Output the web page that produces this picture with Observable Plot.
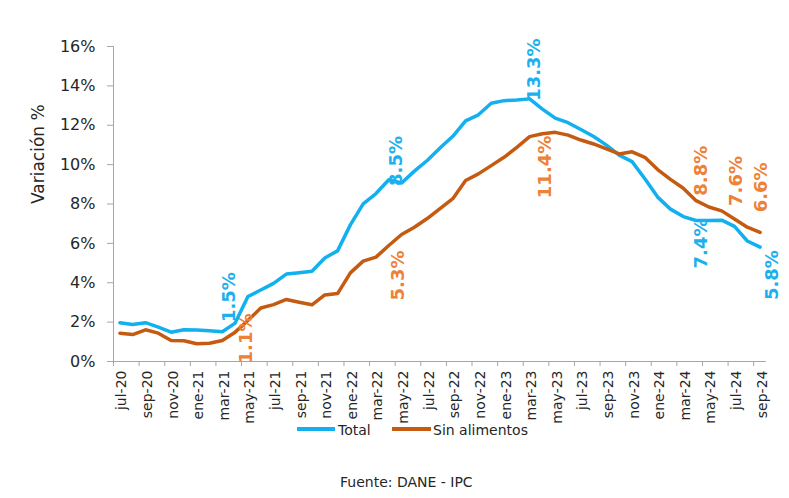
<!DOCTYPE html>
<html><head><meta charset="utf-8">
<script src="https://cdn.jsdelivr.net/npm/d3@7"></script>
<script src="https://cdn.jsdelivr.net/npm/@observablehq/plot@0.6"></script>
<style>
body{margin:0;background:#fff;font-family:"DejaVu Sans",Verdana,sans-serif;}
#wrap{position:relative;width:789px;height:498px;overflow:hidden;}
#wrap svg{position:absolute;left:0;top:0;}
.lg{position:absolute;font-size:14px;line-height:14px;color:#262626;white-space:nowrap;}
.sw{position:absolute;height:4px;}
</style></head>
<body><div id="wrap"></div>
<script>
const months = ["jul-20","ago-20","sep-20","oct-20","nov-20","dic-20","ene-21","feb-21","mar-21","abr-21","may-21","jun-21","jul-21","ago-21","sep-21","oct-21","nov-21","dic-21","ene-22","feb-22","mar-22","abr-22","may-22","jun-22","jul-22","ago-22","sep-22","oct-22","nov-22","dic-22","ene-23","feb-23","mar-23","abr-23","may-23","jun-23","jul-23","ago-23","sep-23","oct-23","nov-23","dic-23","ene-24","feb-24","mar-24","abr-24","may-24","jun-24","jul-24","ago-24","sep-24"];
const total = [1.97,1.88,1.97,1.75,1.49,1.61,1.60,1.56,1.51,1.95,3.30,3.63,3.97,4.44,4.51,4.58,5.26,5.62,6.94,8.01,8.53,9.23,9.07,9.67,10.21,10.84,11.44,12.22,12.53,13.12,13.25,13.28,13.34,12.82,12.36,12.13,11.78,11.43,10.99,10.48,10.15,9.28,8.35,7.74,7.36,7.16,7.16,7.18,6.86,6.12,5.81];
const sinAlimentos = [1.44,1.37,1.61,1.44,1.07,1.05,0.90,0.93,1.07,1.49,2.08,2.72,2.89,3.15,3.01,2.88,3.38,3.45,4.50,5.10,5.30,5.89,6.45,6.82,7.26,7.77,8.27,9.19,9.53,9.95,10.37,10.88,11.42,11.57,11.64,11.50,11.25,11.05,10.80,10.54,10.65,10.37,9.75,9.25,8.80,8.17,7.85,7.65,7.24,6.82,6.56];
const yTicks = [0,2,4,6,8,10,12,14,16];
const labelTexts = ["1.5%","1.1%","8.5%","5.3%","13.3%","11.4%","8.8%","7.4%","7.6%","6.6%","5.8%"];
const labelSeries = ["Total","Sin alimentos","Total","Sin alimentos","Total","Sin alimentos","Sin alimentos","Total","Sin alimentos","Sin alimentos","Total"];
const labelMonths = ["abr-21","may-21","may-22","may-22","mar-23","abr-23","abr-24","abr-24","jul-24","sep-24","sep-24"];
const seriesNames = ["Total","Sin alimentos"];

const BLUE = "#12b0ef", ORANGE = "#c55a11", BLUE_T = "#1cb0ee", ORANGE_T = "#ee8138";
const AXIS = "#a6a6a6", TXT = "#262626";
const nudges = [[-6,-1],[-2,-7],[-5,3],[-3,16],[5,2],[3,2],[5,-5],[5,-2],[2,-13],[1,-20],[12,3]];

const labels = labelTexts.map((t,k)=>{
  const i = months.indexOf(labelMonths[k]);
  const isT = labelSeries[k]==="Total";
  const own = isT ? total[i] : sinAlimentos[i];
  const other = isT ? sinAlimentos[i] : total[i];
  return {t, x:i+0.5, y:own, above: own>other, color: isT?BLUE_T:ORANGE_T, dx:nudges[k][0], dy:nudges[k][1]};
});

const bounds = d3.range(0,51,2);
const chart = Plot.plot({
  width:789, height:415, marginLeft:113, marginRight:23, marginTop:46, marginBottom:54,
  style:{fontFamily:"DejaVu Sans, Verdana, sans-serif", color:TXT, background:"white", overflow:"visible"},
  x:{type:"linear", domain:[0,51], axis:null},
  y:{domain:[0,16], axis:null},
  marks:[
    Plot.axisY(yTicks, {label:null, tickSize:6, tickPadding:12, tickFormat:d=>d+"%", fontSize:16, stroke:AXIS, fill:TXT}),
    Plot.axisX(bounds, {label:null, tickSize:5, tickFormat:()=>"", stroke:AXIS}),
    Plot.axisX(bounds.map(b=>b+0.5), {label:null, tickSize:0, tickPadding:9, tickRotate:-90, tickFormat:v=>months[Math.floor(v)], fontSize:14, fill:TXT, dx:2}),
    Plot.ruleY([0], {stroke:AXIS}),
    Plot.ruleX([0], {stroke:AXIS}),
    Plot.text(["Variación %"], {frameAnchor:"left", rotate:-90, dx:-75, fontSize:17, fill:TXT}),
    Plot.line(total, {x:(d,i)=>i+0.5, y:d=>d, stroke:BLUE, strokeWidth:3.5, strokeLinejoin:"round"}),
    Plot.line(sinAlimentos, {x:(d,i)=>i+0.5, y:d=>d, stroke:ORANGE, strokeWidth:3.5, strokeLinejoin:"round"}),
    ...labels.map(l=>Plot.text([l], {x:"x", y:"y", text:"t", rotate:-90, textAnchor:l.above?"start":"end", lineAnchor:"middle", dx:l.dx, dy:l.dy, fill:l.color, fontSize:18, fontWeight:"bold"}))
  ]
});
const wrap = document.getElementById("wrap");
wrap.appendChild(chart);

function addDiv(cls, style, text){ const d=document.createElement("div"); d.className=cls; Object.assign(d.style, style); if(text) d.textContent=text; wrap.appendChild(d); }
addDiv("sw", {left:"297px", top:"427px", width:"38px", background:BLUE});
addDiv("lg", {left:"338px", top:"423px"}, seriesNames[0]);
addDiv("sw", {left:"392px", top:"427px", width:"39px", background:ORANGE});
addDiv("lg", {left:"433px", top:"423px"}, seriesNames[1]);
addDiv("lg", {left:"340px", top:"475px"}, "Fuente: DANE - IPC");
</script></body></html>
